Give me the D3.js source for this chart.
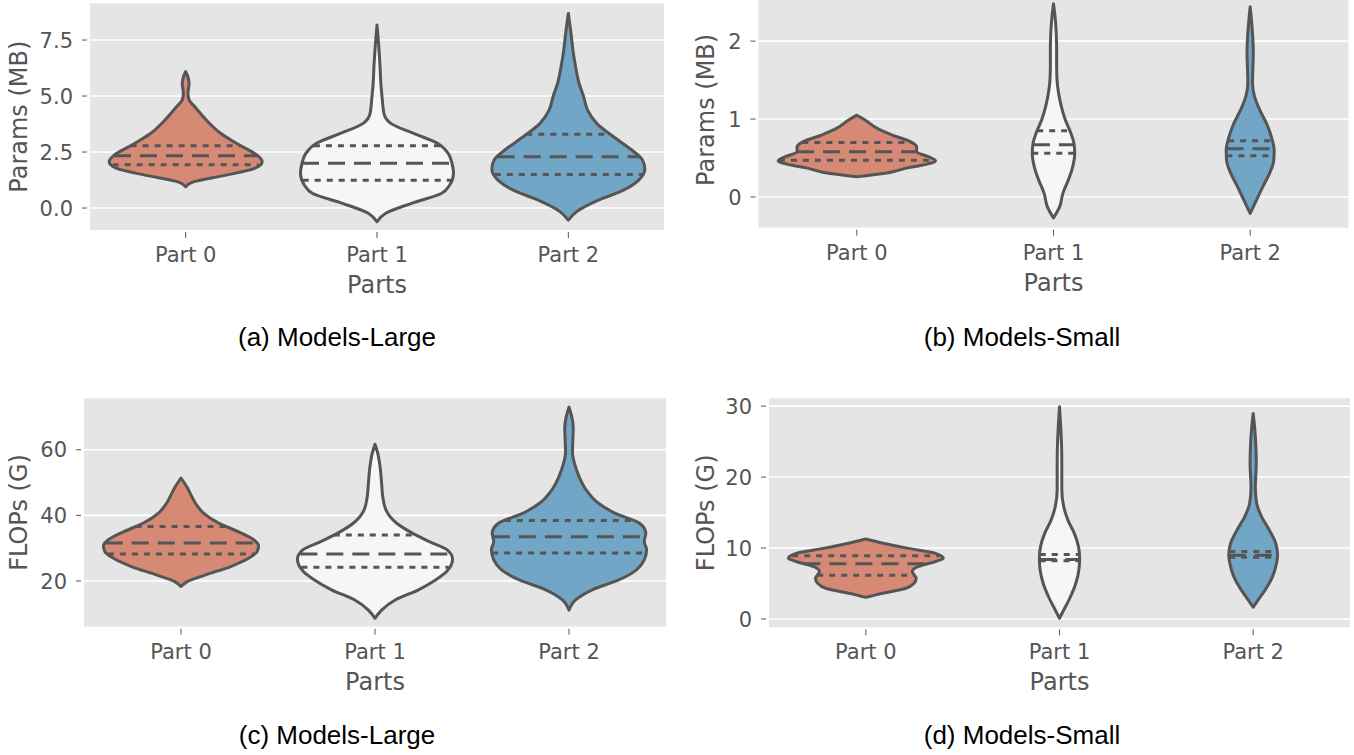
<!DOCTYPE html>
<html>
<head>
<meta charset="utf-8">
<script src="https://cdn.jsdelivr.net/npm/d3@7"></script>
<style>
  body { margin: 0; background: #fff; }
  svg { display: block; }
</style>
</head>
<body>
<div id="chart"></div>
<script>
// Categories
const parts = ['Part 0', 'Part 1', 'Part 2'];

// Violin outlines: [value, relative half width]
const paramsLargeShapes = [
  [[0.95, 0], [1.17, .1], [1.47, .53], [1.77, .9], [2.07, 1], [2.37, .93], [2.78, .72], [3.33, .46], [3.93, .27], [4.52, .12], [4.82, .045], [5.12, .03], [5.57, .045], [5.9, .025], [6.09, 0]],
  [[-0.61, 0], [-0.24, .11], [0.21, .45], [0.65, .84], [1.03, .95], [1.55, 1], [2.0, .98], [2.44, .93], [2.89, .79], [3.33, .48], [3.78, .18], [4.23, .09], [4.82, .07], [5.57, .05], [6.31, .04], [7.35, .02], [8.17, 0]],
  [[-0.54, 0], [-0.16, .11], [0.36, .4], [0.8, .72], [1.25, .92], [1.74, 1], [2.14, .97], [2.59, .83], [3.18, .59], [3.78, .37], [4.38, .25], [4.97, .2], [5.57, .14], [6.31, .095], [7.05, .06], [7.8, .035], [8.69, 0]]
];
const paramsLargeQuartiles = [[1.93, 2.34, 2.78], [1.24, 2.0, 2.78], [1.5, 2.29, 3.29]];
const paramsLargeTicks = [0, 2.5, 5, 7.5];

const paramsSmallShapes = [
  [[0.26, 0], [0.30, .34], [0.37, .63], [0.41, .84], [0.465, 1], [0.52, .9], [0.58, .76], [0.645, .76], [0.71, .68], [0.795, .45], [0.88, .26], [0.99, .1], [1.05, 0]],
  [[-0.27, 0], [-0.12, .08], [0.05, .12], [0.22, .19], [0.39, .245], [0.56, .27], [0.69, .26], [0.82, .22], [0.99, .15], [1.16, .1], [1.33, .065], [1.5, .045], [1.67, .04], [1.88, .04], [2.1, .035], [2.31, .02], [2.48, 0]],
  [[-0.21, 0], [-0.04, .08], [0.13, .16], [0.30, .245], [0.47, .3], [0.60, .305], [0.77, .27], [0.94, .21], [1.12, .12], [1.29, .055], [1.46, .03], [1.67, .035], [1.84, .04], [2.01, .035], [2.23, .02], [2.44, 0]]
];
const paramsSmallQuartiles = [[0.47, 0.58, 0.70], [0.56, 0.67, 0.85], [0.53, 0.62, 0.72]];
const paramsSmallTicks = [0, 1, 2];

const flopsLargeShapes = [
  [[18.3, 0], [19.8, .08], [21.8, .31], [24.4, .64], [26.9, .87], [28.9, .98], [30.7, 1], [32.5, .94], [35.1, .73], [37.6, .49], [40.7, .29], [43.2, .2], [45.7, .14], [48.3, .085], [51.4, 0]],
  [[8.6, 0], [11.1, .085], [14.2, .26], [17.3, .56], [20.3, .78], [22.8, .92], [26.7, 1], [29.5, .93], [32.0, .7], [34.6, .48], [37.6, .28], [41.7, .14], [45.7, .1], [49.8, .085], [54.9, .065], [59.0, .035], [61.7, 0]],
  [[11.1, 0], [14.2, .085], [17.3, .3], [20.3, .64], [23.4, .87], [26.4, .97], [29.5, 1], [32.0, .97], [34.6, .99], [37.6, .91], [40.7, .59], [43.7, .38], [47.8, .22], [51.8, .13], [55.9, .07], [59.0, .045], [63.1, .05], [66.6, .055], [70.2, .035], [73.0, 0]]
];
const flopsLargeQuartiles = [[28.2, 31.6, 36.6], [24.2, 28.2, 34.0], [28.5, 33.5, 38.4]];
const flopsLargeTicks = [20, 40, 60];

const flopsSmallShapes = [
  [[3.05, 0], [3.6, .2], [4.3, .51], [5.0, .62], [5.7, .65], [6.7, .6], [7.4, .68], [8.1, .9], [8.55, 1], [9.25, .9], [9.95, .55], [10.7, .21], [11.27, 0]],
  [[0.1, 0], [1.27, .055], [3.1, .14], [5.0, .21], [6.9, .25], [8.55, .26], [10.2, .245], [12.1, .19], [13.9, .11], [15.8, .055], [18.2, .03], [21.5, .03], [23.8, .028], [26.6, .018], [29.9, 0]],
  [[1.65, 0], [2.7, .065], [4.1, .155], [5.96, .25], [7.8, .3], [9.0, .315], [10.7, .29], [12.5, .21], [14.4, .11], [16.3, .045], [18.6, .028], [21.9, .04], [24.3, .035], [26.6, .022], [28.97, 0]]
];
const flopsSmallQuartiles = [[6.15, 7.8, 8.9], [8.2, 8.4, 9.1], [8.7, 9.0, 9.5]];
const flopsSmallTicks = [0, 10, 20, 30];

const captions = ['(a) Models-Large', '(b) Models-Small', '(c) Models-Large', '(d) Models-Small'];

// Styling
const width = 1354, height = 755;
const colors = ['#d68a76', '#f5f6f6', '#71a6c6'];
const lineColor = '#555555';
const lineWidth = 3;

const panels = [
  {shapes: paramsLargeShapes, quartiles: paramsLargeQuartiles, ticks: paramsLargeTicks, format: d3.format('.1f'),
   domain: [-0.98, 9.14], left: 90, right: 664, top: 3.3, bottom: 230, ylabel: 'Params (MB)', ylabelX: 27,
   caption: captions[0], captionX: 337, captionY: 346},
  {shapes: paramsSmallShapes, quartiles: paramsSmallQuartiles, ticks: paramsSmallTicks, format: d3.format('d'),
   domain: [-0.394, 2.63], left: 758.5, right: 1348.5, top: -8, bottom: 227.7, ylabel: 'Params (MB)', ylabelX: 714,
   caption: captions[1], captionX: 1022, captionY: 346},
  {shapes: flopsLargeShapes, quartiles: flopsLargeQuartiles, ticks: flopsLargeTicks, format: d3.format('d'),
   domain: [6.05, 75.7], left: 84, right: 666, top: 398.3, bottom: 626.7, ylabel: 'FLOPs (G)', ylabelX: 27,
   caption: captions[2], captionX: 337, captionY: 744},
  {shapes: flopsSmallShapes, quartiles: flopsSmallQuartiles, ticks: flopsSmallTicks, format: d3.format('d'),
   domain: [-1.17, 31.1], left: 769, right: 1350, top: 398.3, bottom: 627.3, ylabel: 'FLOPs (G)', ylabelX: 714,
   caption: captions[3], captionX: 1022, captionY: 744}
];

const svg = d3.select('#chart').append('svg')
  .attr('width', width)
  .attr('height', height)
  .attr('viewBox', [0, 0, width, height]);

// half width of a violin at a given value (linear between read points)
const widthAt = (shape, v) => {
  for (let i = 1; i < shape.length; i++) {
    if (v <= shape[i][0]) {
      const [v0, w0] = shape[i - 1], [v1, w1] = shape[i];
      return w0 + (w1 - w0) * (v - v0) / (v1 - v0);
    }
  }
  return 0;
};

const drawPanel = p => {
  const x = d3.scaleBand().domain(parts).range([p.left, p.right]);
  const y = d3.scaleLinear().domain(p.domain).range([p.bottom, p.top]);
  const g = svg.append('g');

  // Background and grid
  g.append('rect')
      .attr('x', p.left)
      .attr('y', p.top)
      .attr('width', p.right - p.left)
      .attr('height', p.bottom - p.top)
      .attr('fill', '#e5e5e5');
  g.selectAll('.grid')
    .data(p.ticks)
    .join('line')
      .attr('class', 'grid')
      .attr('x1', p.left)
      .attr('x2', p.right)
      .attr('y1', d => y(d))
      .attr('y2', d => y(d))
      .attr('stroke', '#fff')
      .attr('stroke-width', 1.6);

  // Y axis
  g.selectAll('.ytick')
    .data(p.ticks)
    .join('line')
      .attr('x1', p.left - 8)
      .attr('x2', p.left - 3)
      .attr('y1', d => y(d))
      .attr('y2', d => y(d))
      .attr('stroke', lineColor)
      .attr('stroke-width', 1);
  g.selectAll('.ylabel')
    .data(p.ticks)
    .join('text')
      .attr('x', p.left - 17)
      .attr('y', d => y(d))
      .attr('dy', '0.36em')
      .attr('text-anchor', 'end')
      .attr('font-family', 'DejaVu Sans')
      .attr('font-size', 21)
      .attr('fill', lineColor)
      .text(d => p.format(d));
  g.append('text')
      .attr('transform', `translate(${p.ylabelX}, ${(p.top + p.bottom) / 2}) rotate(-90)`)
      .attr('text-anchor', 'middle')
      .attr('font-family', 'DejaVu Sans')
      .attr('font-size', 24)
      .attr('fill', lineColor)
      .text(p.ylabel);

  // X axis
  g.selectAll('.xtick')
    .data(parts)
    .join('line')
      .attr('x1', d => x(d) + x.bandwidth() / 2)
      .attr('x2', d => x(d) + x.bandwidth() / 2)
      .attr('y1', p.bottom + 2)
      .attr('y2', p.bottom + 8)
      .attr('stroke', lineColor)
      .attr('stroke-width', 1);
  g.selectAll('.xlabel')
    .data(parts)
    .join('text')
      .attr('x', d => x(d) + x.bandwidth() / 2)
      .attr('y', p.bottom + 32)
      .attr('text-anchor', 'middle')
      .attr('font-family', 'DejaVu Sans')
      .attr('font-size', 21)
      .attr('fill', lineColor)
      .text(d => d);
  g.append('text')
      .attr('x', (p.left + p.right) / 2)
      .attr('y', p.bottom + 63)
      .attr('text-anchor', 'middle')
      .attr('font-family', 'DejaVu Sans')
      .attr('font-size', 24)
      .attr('fill', lineColor)
      .text('Parts');

  // Violins
  const half = x.bandwidth() * 0.4;
  parts.forEach((part, i) => {
    const cx = x(part) + x.bandwidth() / 2;
    const area = d3.area()
      .curve(d3.curveMonotoneY)
      .y(d => y(d[0]))
      .x0(d => cx - half * d[1])
      .x1(d => cx + half * d[1]);
    g.append('path')
        .datum(p.shapes[i])
        .attr('d', area)
        .attr('fill', colors[i])
        .attr('stroke', lineColor)
        .attr('stroke-width', lineWidth)
        .attr('stroke-linejoin', 'round');

    // quartile lines: q1 dotted, median dashed, q3 dotted
    g.selectAll(null)
      .data(p.quartiles[i])
      .join('line')
        .attr('x1', d => cx - half * widthAt(p.shapes[i], d))
        .attr('x2', d => cx + half * widthAt(p.shapes[i], d))
        .attr('y1', d => y(d))
        .attr('y2', d => y(d))
        .attr('stroke', lineColor)
        .attr('stroke-width', lineWidth)
        .attr('stroke-dasharray', (d, k) => k === 1 ? '17,9' : '6,6');
  });

  // Caption
  svg.append('text')
      .attr('x', p.captionX)
      .attr('y', p.captionY)
      .attr('text-anchor', 'middle')
      .attr('font-family', 'Liberation Sans, Arial, sans-serif')
      .attr('font-size', 26)
      .attr('fill', '#000')
      .text(p.caption);
};

panels.forEach(drawPanel);
</script>
</body>
</html>
